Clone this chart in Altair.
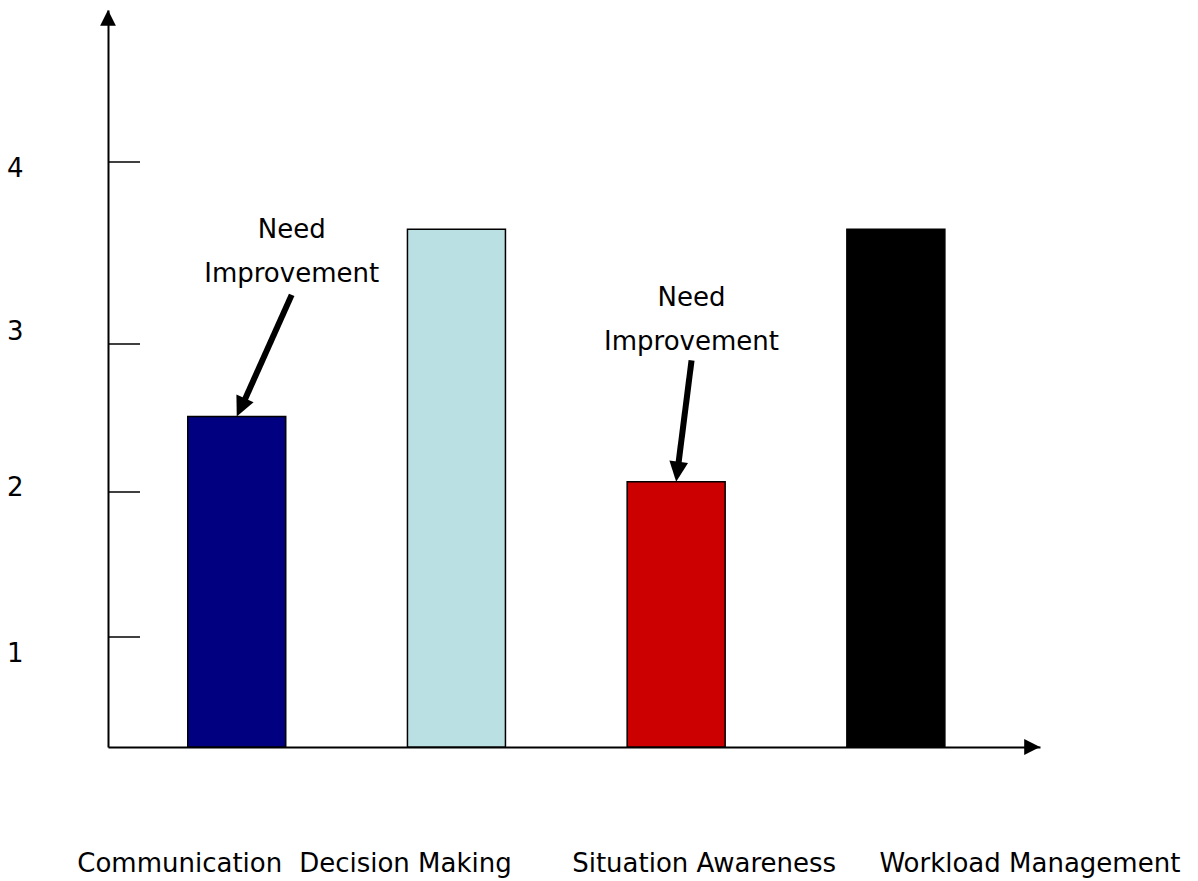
import altair as alt
import pandas as pd

# ---- data -------------------------------------------------------------
categories = ["Communication", "Decision Making", "Situation Awareness", "Workload Management"]
scores = [2.51, 3.63, 2.07, 3.63]
bar_colors = ["#000080", "#BBE0E3", "#CC0000", "#000000"]

tick_values = [1, 2, 3, 4]

# callouts: two text lines per note, placed in (category index, score) units
note_text = ["Need", "Improvement", "Need", "Improvement"]
note_x = [0.25, 0.25, 2.07, 2.07]
note_y = [3.58, 3.34, 3.21, 2.96]

# callout arrows: tail (near the note) -> tip (top of the flagged bar)
arrow_from_x = [0.25, 2.07]
arrow_from_y = [3.27, 2.89]
arrow_to_x = [0, 2]
arrow_to_y = [2.51, 2.07]
arrow_angle = [204.3, 187.3]

# ---- layout -----------------------------------------------------------
WIDTH, HEIGHT = 932, 737
FONT = "DejaVu Sans"
FONT_SIZE = 26
Y_TOP = 4.835
TICK_LEN = 32

# the hand-drawn value axis has uneven spacing between its ticks
y_scale = alt.Scale(
    domain=[0, 1, 2, 3, 4, Y_TOP],
    range=[737, 627, 482, 334, 152, 0],
    nice=False,
    zero=False,
)

x_band = alt.Scale(domain=categories, paddingInner=0.554, paddingOuter=0.398, align=0.456)
# numeric scale lined up with the band centres, for the callouts
x_num = alt.Scale(domain=[-0.586, 3.656], nice=False, zero=False)

y_label_nudge = {4: 6, 3: -13, 2: -5, 1: 16}
x_label_nudge = {
    "Communication": -57,
    "Decision Making": -51,
    "Situation Awareness": 28,
    "Workload Management": 134,
}

y_axis = alt.Axis(
    orient="left",
    values=tick_values,
    format="d",
    grid=False,
    title=None,
    ticks=False,
    tickSize=0,
    domainColor="black",
    domainWidth=2,
    labelAlign="right",
    labelBaseline="middle",
    labelPadding=85,
    labelFont=FONT,
    labelFontSize=FONT_SIZE,
    labelColor="black",
    labelFlush=False,
    labelOverlap=False,
    labelOffset={
        "condition": [{"test": f"datum.value == {k}", "value": v} for k, v in y_label_nudge.items()],
        "value": 0,
    },
)

x_axis = alt.Axis(
    orient="bottom",
    title=None,
    ticks=False,
    tickSize=0,
    grid=False,
    domainColor="black",
    domainWidth=2,
    labelAngle=0,
    labelFont=FONT,
    labelFontSize=FONT_SIZE,
    labelColor="black",
    labelBaseline="alphabetic",
    labelPadding=124,
    labelLimit=500,
    labelOverlap=False,
    labelFlush=False,
    labelOffset={
        "condition": [{"test": f"datum.value === '{k}'", "value": v} for k, v in x_label_nudge.items()],
        "value": 0,
    },
)

bars_df = pd.DataFrame({"category": categories, "score": scores})
ticks_df = pd.DataFrame({"tick": tick_values})
notes_df = pd.DataFrame({"text": note_text, "x": note_x, "y": note_y})
arrows_df = pd.DataFrame(
    {"fx": arrow_from_x, "fy": arrow_from_y, "tx": arrow_to_x, "ty": arrow_to_y, "angle": arrow_angle}
)


def y_enc(field=None, **kw):
    # every layer shares the same value axis definition so it merges into one
    if field is None:
        return alt.Y(scale=y_scale, axis=y_axis, **kw)
    return alt.Y(field, scale=y_scale, axis=y_axis, **kw)


bars = alt.Chart(bars_df).mark_bar(stroke="black", strokeWidth=1.5).encode(
    x=alt.X("category:N", scale=x_band, axis=x_axis, sort=categories),
    y=y_enc("score:Q"),
    color=alt.Color("category:N", scale=alt.Scale(domain=categories, range=bar_colors), legend=None),
)

# tick marks point inward, into the plot
ticks = alt.Chart(ticks_df).mark_rule(color="black", strokeWidth=1.5).encode(
    y=y_enc("tick:Q"),
    x=alt.value(0),
    x2=alt.value(TICK_LEN),
)

# arrow shafts stop just inside the arrowhead
shafts = alt.Chart(arrows_df).transform_calculate(
    sx="datum.tx + 0.12 * (datum.fx - datum.tx)",
    sy="datum.ty + 0.12 * (datum.fy - datum.ty)",
).mark_rule(color="black", strokeWidth=6, strokeCap="butt").encode(
    x=alt.X("fx:Q", scale=x_num, axis=None),
    x2="sx:Q",
    y=y_enc("fy:Q"),
    y2="sy:Q",
)

HEAD = "M0,0L-0.47,1L0.47,1Z"

heads = alt.Chart(arrows_df).mark_point(
    shape=HEAD, filled=True, color="black", opacity=1, size=1600, strokeWidth=0
).encode(
    x=alt.X("tx:Q", scale=x_num, axis=None),
    y=y_enc("ty:Q"),
    angle=alt.Angle("angle:Q", scale=None),
)

notes = alt.Chart(notes_df).mark_text(
    font=FONT, fontSize=FONT_SIZE, align="center", baseline="alphabetic", color="black"
).encode(
    x=alt.X("x:Q", scale=x_num, axis=None),
    y=y_enc("y:Q"),
    text="text:N",
)

AXIS_HEAD = "M0,0L-0.5,1L0.5,1Z"
one_row = pd.DataFrame({"k": [0]})

y_arrow = alt.Chart(one_row).mark_point(
    shape=AXIS_HEAD, filled=True, color="black", opacity=1, size=1000, strokeWidth=0, angle=0
).encode(x=alt.value(0), y=y_enc(datum=Y_TOP))

x_arrow = alt.Chart(one_row).mark_point(
    shape=AXIS_HEAD, filled=True, color="black", opacity=1, size=1000, strokeWidth=0, angle=90
).encode(x=alt.value(WIDTH), y=y_enc(datum=0))

chart = (
    alt.layer(bars, ticks, shafts, heads, notes, y_arrow, x_arrow)
    .resolve_scale(x="independent")
    .properties(
        width=WIDTH,
        height=HEIGHT,
        autosize=alt.AutoSizeParams(type="none"),
        padding={"left": 108, "top": 10, "right": 158, "bottom": 134},
        background="white",
    )
    .configure_view(stroke=None)
)

chart.save("out.html", embed_options={"renderer": "svg", "actions": False})
